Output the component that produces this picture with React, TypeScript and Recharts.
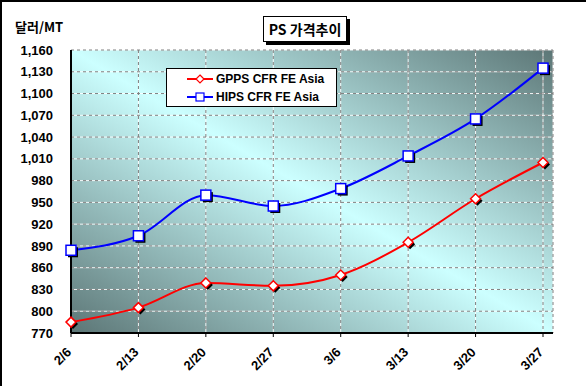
import React from "react";
import {
  LineChart,
  Line,
  XAxis,
  YAxis,
  CartesianGrid,
} from "recharts";

// weekly price points (USD/MT)
const dates = ["2/6", "2/13", "2/20", "2/27", "3/6", "3/13", "3/20", "3/27"];
const gpps = [785, 805, 839, 835, 850, 895, 955, 1005];
const hips = [884, 904, 960, 945, 969, 1014, 1065, 1135];
const yTicks = [770, 800, 830, 860, 890, 920, 950, 980, 1010, 1040, 1070, 1100, 1130, 1160];

const data = dates.map((d, i) => ({ date: d, gpps: gpps[i], hips: hips[i] }));

const FONT = "'Liberation Sans', Arial, sans-serif";
const KFONT = "'Noto Sans CJK KR', 'Liberation Sans', sans-serif";

const Diamond = (props: any) => {
  const { cx, cy } = props;
  if (cx == null || cy == null) return null;
  const r = 5;
  const pts = (x: number, y: number) =>
    `${x},${y - r} ${x + r},${y} ${x},${y + r} ${x - r},${y}`;
  return (
    <g>
      <polygon points={pts(cx + 2, cy + 2)} fill="#000" />
      <polygon points={pts(cx, cy)} fill="#fff" stroke="#ff0000" strokeWidth={1.5} />
    </g>
  );
};

const Square = (props: any) => {
  const { cx, cy } = props;
  if (cx == null || cy == null) return null;
  const s = 10;
  return (
    <g>
      <rect x={cx - s / 2 + 2} y={cy - s / 2 + 2} width={s} height={s} fill="#000" />
      <rect x={cx - s / 2} y={cy - s / 2} width={s} height={s} fill="#fff" stroke="#0000ff" strokeWidth={1.5} />
    </g>
  );
};

const XTick = (props: any) => {
  const { x, y, payload } = props;
  return (
    <text
      x={x + 1}
      y={y + 14}
      transform={`rotate(-45 ${x + 1} ${y + 14})`}
      textAnchor="end"
      fontFamily={FONT}
      fontWeight="bold"
      fontSize={13}
      fill="#000"
    >
      {payload.value}
    </text>
  );
};

const legendItems = [
  { name: "GPPS CFR FE Asia", color: "#ff0000", mark: "d" },
  { name: "HIPS CFR FE Asia", color: "#0000ff", mark: "s" },
];

export default function App() {
  return (
    <div
      style={{
        position: "fixed",
        left: 0,
        top: 0,
        width: 586,
        height: 386,
        background: "#fff",
        boxSizing: "border-box",
        borderTop: "2px solid #000",
        borderLeft: "2px solid #000",
      }}
    >
      <div style={{ position: "absolute", left: -2, top: -2 }}>
        <LineChart
          width={586}
          height={386}
          data={data}
          margin={{ top: 50, right: 33, left: 11, bottom: 0 }}
        >
          <defs>
            <linearGradient id="bg" x1="0" y1="1" x2="1" y2="0">
              <stop offset="0%" stopColor="#5c7676" />
              <stop offset="50%" stopColor="#ccffff" />
              <stop offset="100%" stopColor="#5c7676" />
            </linearGradient>
          </defs>
          <CartesianGrid fill="url(#bg)" stroke="#ffffff" strokeOpacity={0.9} />
          <CartesianGrid fill="none" stroke="#808080" strokeDasharray="3 3" />
          <XAxis
            dataKey="date"
            padding={{ left: 0, right: 10 }}
            height={53}
            axisLine={{ stroke: "#000", strokeWidth: 2 }}
            tickLine={{ stroke: "#000" }}
            tickSize={4}
            tick={<XTick />}
            interval={0}
          />
          <XAxis
            xAxisId="top"
            orientation="top"
            dataKey="date"
            height={0}
            axisLine={{ stroke: "#808080", strokeWidth: 2 }}
            tick={false}
            tickLine={false}
          />
          <YAxis
            width={60}
            domain={[770, 1160]}
            ticks={yTicks}
            interval={0}
            axisLine={{ stroke: "#000", strokeWidth: 2 }}
            tickLine={false}
            tickFormatter={(v) => v.toLocaleString("en-US")}
            tick={{ fill: "#000", fontFamily: FONT, fontWeight: "bold", fontSize: 13 }}
            tickMargin={12}
          />
          <YAxis
            yAxisId="right"
            orientation="right"
            width={0}
            domain={[770, 1160]}
            axisLine={{ stroke: "#808080", strokeWidth: 2 }}
            tick={false}
            tickLine={false}
          />
          <Line
            type="monotone"
            dataKey="gpps"
            stroke="#ff0000"
            strokeWidth={2}
            dot={<Diamond />}
            isAnimationActive={false}
          />
          <Line
            type="monotone"
            dataKey="hips"
            stroke="#0000ff"
            strokeWidth={2}
            dot={<Square />}
            isAnimationActive={false}
          />
        </LineChart>
      </div>
      <div
        style={{
          position: "absolute",
          left: 13,
          top: 15,
          fontFamily: KFONT,
          fontWeight: "bold",
          fontSize: 13,
        }}
      >
        달러/MT
      </div>
      <div
        style={{
          position: "absolute",
          left: 261,
          top: 14,
          width: 82,
          height: 24,
          border: "1px solid #000",
          boxShadow: "3px 3px 0 #000",
          background: "#fff",
          fontFamily: KFONT,
          fontWeight: "bold",
          fontSize: 14,
          lineHeight: "24px",
          textAlign: "center",
        }}
      >
        PS 가격추이
      </div>
      <div
        style={{
          position: "absolute",
          left: 164,
          top: 66,
          width: 169,
          height: 37,
          border: "1px solid #000",
          background: "#fff",
          fontFamily: FONT,
          fontWeight: "bold",
          fontSize: 12,
        }}
      >
        {legendItems.map((e) => (
          <div key={e.name} style={{ display: "flex", alignItems: "center", height: 16, marginTop: 2 }}>
            <svg width={28} height={14} style={{ marginLeft: 20 }}>
              <line x1={0} y1={7} x2={26} y2={7} stroke={e.color} strokeWidth={2} />
              {e.mark === "d" ? (
                <polygon points="13,3 17,7 13,11 9,7" fill="#fff" stroke={e.color} strokeWidth={1.2} />
              ) : (
                <rect x={9} y={3} width={8} height={8} fill="#fff" stroke={e.color} strokeWidth={1.2} />
              )}
            </svg>
            <span style={{ marginLeft: 1 }}>{e.name}</span>
          </div>
        ))}
      </div>
    </div>
  );
}
